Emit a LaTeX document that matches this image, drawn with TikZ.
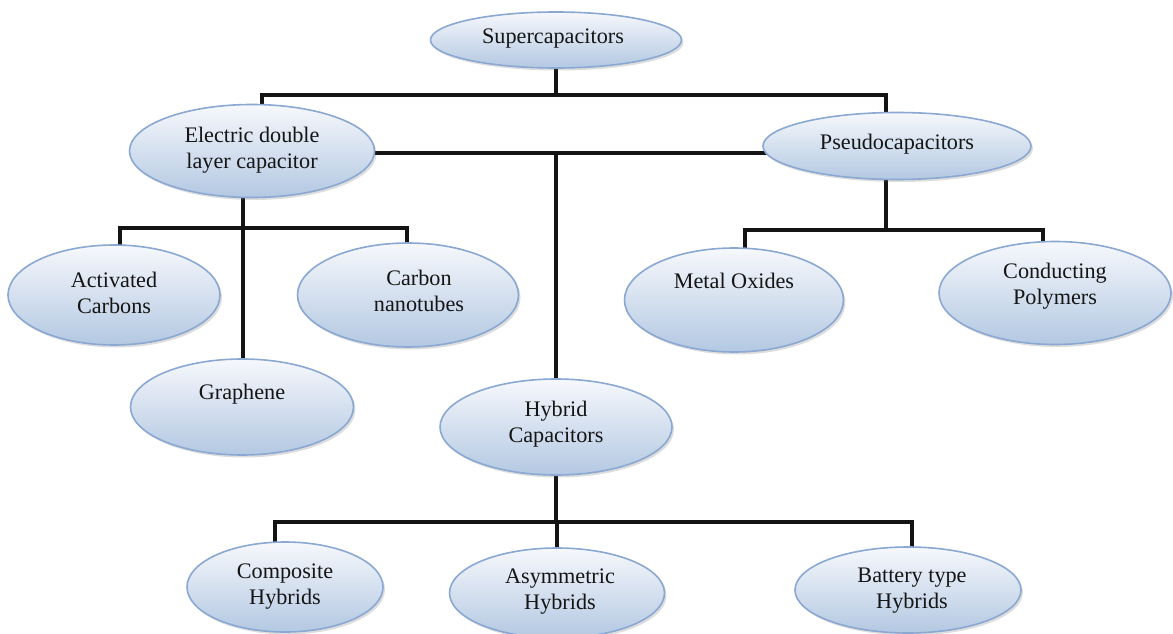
\documentclass[tikz,border=0pt]{standalone}
\usepackage{fontspec}
\setmainfont{Liberation Serif}
\usetikzlibrary{shapes.geometric,shadows,backgrounds,calc}
\definecolor{ellTop}{HTML}{F6F8FC}
\definecolor{ellBot}{HTML}{B3C8E2}
\definecolor{ellLine}{HTML}{8AA8D1}
\definecolor{txt}{HTML}{151515}
\tikzset{
  ell/.style={ellipse, draw=ellLine, line width=1.6pt, top color=ellTop, bottom color=ellBot,
    inner sep=0pt, outer sep=0pt,
    drop shadow={shadow xshift=2pt, shadow yshift=-2.5pt, opacity=0.22, fill=black!60}},
  lbl/.style={font=\fontsize{22.2}{26}\selectfont, text=txt, align=center, inner sep=0pt},
  conn/.style={line width=3.5pt, draw=black!92, line join=miter},
}
\begin{document}
\begin{tikzpicture}[x=1pt,y=-1pt]
\useasboundingbox (0,0) rectangle (1173,634);
\clip (0,0) rectangle (1173,634);
% ellipses
\node[ell, minimum width=251pt, minimum height=56pt] (sup) at (556,40) {};
\node[ell, minimum width=245pt, minimum height=93pt] (edlc) at (252,151) {};
\node[ell, minimum width=268pt, minimum height=67pt] (pseudo) at (897,146) {};
\node[ell, minimum width=212pt, minimum height=100pt] (act) at (114,295) {};
\node[ell, minimum width=221pt, minimum height=104pt] (cnt) at (408,295) {};
\node[ell, minimum width=223pt, minimum height=96pt] (graph) at (242,407) {};
\node[ell, minimum width=219pt, minimum height=104pt] (metal) at (734,300) {};
\node[ell, minimum width=232pt, minimum height=103pt] (cp) at (1055,293) {};
\node[ell, minimum width=232pt, minimum height=96pt] (hyb) at (556,427) {};
\node[ell, minimum width=196pt, minimum height=90pt] (comp) at (285,587) {};
\node[ell, minimum width=215pt, minimum height=90pt] (asym) at (557,593) {};
\node[ell, minimum width=226pt, minimum height=86pt] (bat) at (908,590) {};
% labels
\node[lbl] (sup-t) at (553,39) {Supercapacitors};
\node[lbl] (edlc-t) at (252,150) {Electric double\\layer capacitor};
\node[lbl] (pseudo-t) at (897,144) {Pseudocapacitors};
\node[lbl] (act-t) at (114,293) {Activated\\Carbons};
\node[lbl] (cnt-t) at (419,291) {Carbon\\nanotubes};
\node[lbl] (graph-t) at (242,394) {Graphene};
\node[lbl] (metal-t) at (734,281) {Metal Oxides};
\node[lbl] (cp-t) at (1055,286) {Conducting\\Polymers};
\node[lbl] (hyb-t) at (556,424) {Hybrid\\Capacitors};
\node[lbl] (comp-t) at (285,587) {Composite\\Hybrids};
\node[lbl] (asym-t) at (560,592) {Asymmetric\\Hybrids};
\node[lbl] (bat-t) at (912,591) {Battery type\\Hybrids};
% junctions
\coordinate (jt) at (556,95);
\coordinate (jm) at (556,153);
\coordinate (je) at (243,228);
\coordinate (jp) at (886,230);
\coordinate (jh) at (556,522);
\begin{pgfonlayer}{background}
\draw[conn] (sup) -- (jt);
\draw[conn] ([xshift=10pt]edlc.center) |- (jt) -| ([xshift=-11pt]pseudo.center);
\draw[conn] (edlc.center |- jm) -- (pseudo.center |- jm);
\draw[conn] (jm) -- (hyb);
\draw[conn] (edlc -| je) -- (graph -| je);
\draw[conn] ([xshift=6pt]act.center) |- (je) -| ([xshift=-1pt]cnt.center);
\draw[conn] ([xshift=-11pt]pseudo.center) -- (jp);
\draw[conn] ([xshift=11pt]metal.center) |- (jp) -| ([xshift=-12pt]cp.center);
\draw[conn] (hyb) -- (jh);
\draw[conn] ([xshift=-10pt]comp.center) |- (jh) -| ([xshift=4pt]bat.center);
\draw[conn] (jh) -- (asym.center |- jh) -- (asym);
\end{pgfonlayer}
\end{tikzpicture}
\end{document}
